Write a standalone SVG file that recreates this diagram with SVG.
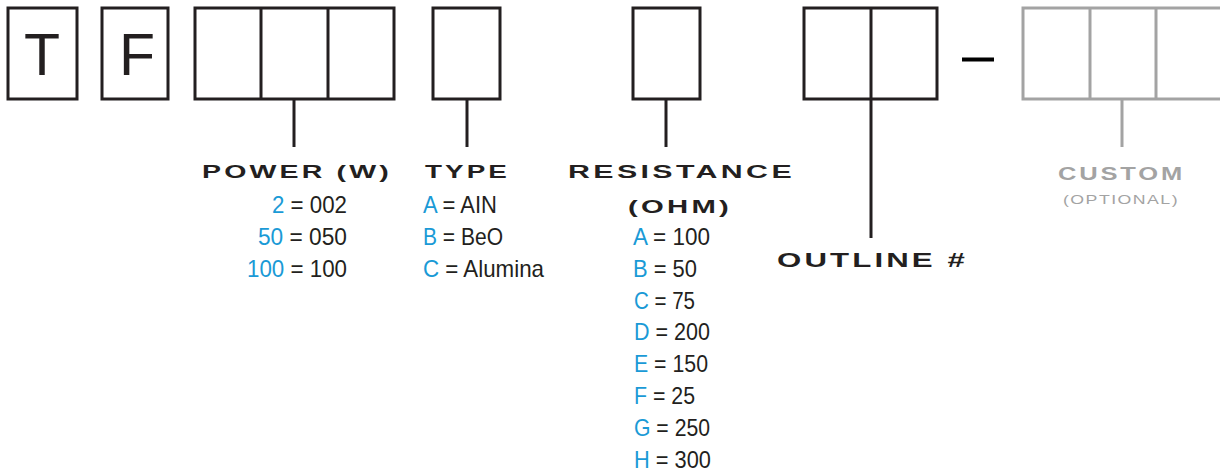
<svg xmlns="http://www.w3.org/2000/svg" width="1220" height="471" viewBox="0 0 1220 471">
<style>
.box{fill:#fff;stroke:#231f20;stroke-width:3}
.gbox{fill:#fff;stroke:#a3a3a3;stroke-width:3}
.ln{stroke:#231f20;stroke-width:3;fill:none}
.gln{stroke:#a3a3a3;stroke-width:3;fill:none}
.big{font-family:"Liberation Sans",Arial,sans-serif;font-size:59px;fill:#231f20;text-anchor:middle}
.hd{font-family:"Liberation Sans",Arial,sans-serif;font-weight:bold;font-size:18px;letter-spacing:2px;fill:#231f20}
.ghd{font-family:"Liberation Sans",Arial,sans-serif;font-weight:bold;letter-spacing:2px;fill:#a3a3a3}
.val{font-family:"Liberation Sans",Arial,sans-serif;font-size:24px;fill:#231f20}
.b{fill:#1a9ad6}
</style>
<g id="node-T"><rect class="box" x="8" y="8" width="69" height="91"/><text class="big" x="42" y="75">T</text></g>
<g id="node-F"><rect class="box" x="102" y="8" width="66" height="91"/><text class="big" x="137" y="75">F</text></g>
<g id="node-power"><rect class="box" x="195" y="8" width="199" height="91"/><line class="ln" x1="261" y1="8" x2="261" y2="99"/><line class="ln" x1="328" y1="8" x2="328" y2="99"/>
<text class="hd" x="202" y="178" textLength="190" lengthAdjust="spacingAndGlyphs">POWER (W)</text>
<text class="val" x="272" y="213" textLength="75" lengthAdjust="spacingAndGlyphs"><tspan class="b">2</tspan> = 002</text>
<text class="val" x="258" y="245" textLength="89" lengthAdjust="spacingAndGlyphs"><tspan class="b">50</tspan> = 050</text>
<text class="val" x="247" y="277" textLength="100" lengthAdjust="spacingAndGlyphs"><tspan class="b">100</tspan> = 100</text>
</g>
<g id="node-type"><rect class="box" x="433" y="8" width="67" height="91"/>
<text class="hd" x="425" y="178" textLength="85" lengthAdjust="spacingAndGlyphs">TYPE</text>
<text class="val" x="423" y="213" textLength="74" lengthAdjust="spacingAndGlyphs"><tspan class="b">A</tspan> = AIN</text>
<text class="val" x="423" y="245" textLength="80" lengthAdjust="spacingAndGlyphs"><tspan class="b">B</tspan> = BeO</text>
<text class="val" x="423" y="277" textLength="121" lengthAdjust="spacingAndGlyphs"><tspan class="b">C</tspan> = Alumina</text>
</g>
<g id="node-resistance"><rect class="box" x="633" y="8" width="67" height="91"/>
<text class="hd" x="568" y="178" textLength="227" lengthAdjust="spacingAndGlyphs">RESISTANCE</text>
<text class="hd" x="628" y="213" textLength="104" lengthAdjust="spacingAndGlyphs">(OHM)</text>
<text class="val" x="633" y="245" textLength="77" lengthAdjust="spacingAndGlyphs"><tspan class="b">A</tspan> = 100</text>
<text class="val" x="633" y="277" textLength="64" lengthAdjust="spacingAndGlyphs"><tspan class="b">B</tspan> = 50</text>
<text class="val" x="634" y="309" textLength="61" lengthAdjust="spacingAndGlyphs"><tspan class="b">C</tspan> = 75</text>
<text class="val" x="634" y="340" textLength="76" lengthAdjust="spacingAndGlyphs"><tspan class="b">D</tspan> = 200</text>
<text class="val" x="634" y="372" textLength="74" lengthAdjust="spacingAndGlyphs"><tspan class="b">E</tspan> = 150</text>
<text class="val" x="634" y="404" textLength="61" lengthAdjust="spacingAndGlyphs"><tspan class="b">F</tspan> = 25</text>
<text class="val" x="634" y="436" textLength="76" lengthAdjust="spacingAndGlyphs"><tspan class="b">G</tspan> = 250</text>
<text class="val" x="634" y="468" textLength="77" lengthAdjust="spacingAndGlyphs"><tspan class="b">H</tspan> = 300</text>
</g>
<g id="node-outline"><rect class="box" x="804" y="8" width="133" height="91"/><line class="ln" x1="871" y1="8" x2="871" y2="99"/>
<text class="hd" x="777" y="267" textLength="191" lengthAdjust="spacingAndGlyphs" style="font-size:20px">OUTLINE #</text>
</g>
<g id="node-dash"><rect x="962" y="57.5" width="32" height="4" fill="#000"/></g>
<g id="node-custom"><rect class="gbox" x="1023" y="8" width="210" height="91"/><line class="gln" x1="1090" y1="8" x2="1090" y2="99"/><line class="gln" x1="1156" y1="8" x2="1156" y2="99"/>
<text class="ghd" x="1058" y="180" textLength="127" lengthAdjust="spacingAndGlyphs" style="font-size:18px">CUSTOM</text>
<text class="ghd" x="1063" y="204" textLength="116" lengthAdjust="spacingAndGlyphs" style="font-size:12px;font-weight:normal;letter-spacing:1px">(OPTIONAL)</text>
</g>
<g id="connectors">
<line class="ln" x1="294" y1="99" x2="294" y2="147"/>
<line class="ln" x1="467" y1="99" x2="467" y2="147"/>
<line class="ln" x1="666" y1="99" x2="666" y2="147"/>
<line class="ln" x1="871" y1="99" x2="871" y2="238"/>
<line class="gln" x1="1122" y1="99" x2="1122" y2="147"/>
</g>
</svg>
